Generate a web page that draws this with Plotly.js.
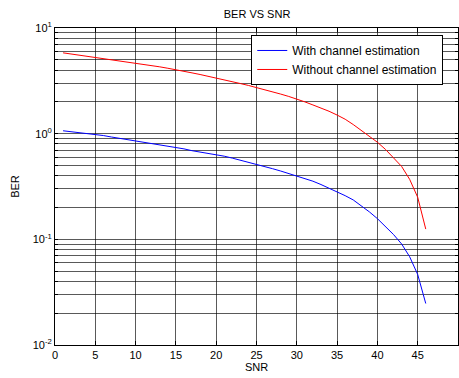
<!DOCTYPE html>
<html>
<head>
<meta charset="utf-8">
<script src="https://cdn.plot.ly/plotly-3.0.1.min.js"></script>
<style>html,body{margin:0;padding:0;background:#fff;}#chart{width:459px;height:378px;}</style>
</head>
<body>
<div id="chart"></div>
<script>
const snr = [1,2,3,4,5,6,7,8,9,10,11,12,13,14,15,16,17,18,19,20,21,22,23,24,25,26,27,28,29,30,31,32,33,34,35,36,37,38,39,40,41,42,43,44,45,46];
const berWith = [1.065,1.045,1.025,1.005,0.99,0.96,0.93,0.905,0.88,0.857,0.834,0.81,0.79,0.768,0.746,0.718,0.69,0.67,0.655,0.64,0.612,0.587,0.562,0.538,0.514,0.49,0.466,0.443,0.42,0.399,0.378,0.355,0.33,0.305,0.283,0.259,0.236,0.208,0.182,0.157,0.133,0.111,0.0905,0.0685,0.0465,0.0247];
const berWithout = [5.82,5.68,5.55,5.41,5.28,5.16,5.03,4.91,4.80,4.68,4.55,4.42,4.29,4.16,4.04,3.90,3.76,3.63,3.50,3.37,3.24,3.11,2.98,2.86,2.74,2.62,2.50,2.37,2.25,2.13,2.00,1.87,1.75,1.63,1.50,1.37,1.22,1.08,0.95,0.83,0.71,0.595,0.49,0.37,0.25,0.125];
const seriesNames = ["With channel estimation", "Without channel estimation"];
const xTicks = [0,5,10,15,20,25,30,35,40,45,50];
const decades = [-2,-1,0,1];

const yVals = [], yText = [];
decades.forEach(d => {
  for (let m = 1; m <= 9; m++) {
    if (d === 1 && m > 1) break;
    yVals.push(m * Math.pow(10, d));
    yText.push(m === 1 ? '10<sup>' + d + '</sup>' : '');
  }
});

const font = {family: 'Liberation Sans, Arial, sans-serif', size: 11, color: '#000'};
const gridColor = 'rgba(0,0,0,0.65)';

const traces = [
  {x: snr, y: berWith, type: 'scatter', mode: 'lines', name: seriesNames[0], line: {color: '#0000ff', width: 1}},
  {x: snr, y: berWithout, type: 'scatter', mode: 'lines', name: seriesNames[1], line: {color: '#ff0000', width: 1}}
];

const layout = {
  width: 459, height: 378,
  margin: {l: 55, r: 1, t: 28, b: 33},
  paper_bgcolor: '#fff', plot_bgcolor: '#fff',
  font: font,
  title: {text: 'BER VS SNR', font: {size: 11, color: '#000'}, x: 0.56, xanchor: 'center', y: 0.962, yanchor: 'middle'},
  xaxis: {
    range: [0, 50], tickvals: xTicks, ticktext: xTicks.map(String),
    showgrid: true, gridcolor: gridColor, gridwidth: 1,
    zeroline: false, showline: true, linecolor: '#000', linewidth: 1, mirror: 'ticks',
    ticks: 'inside', ticklen: 4, tickcolor: '#000',
    title: {text: 'SNR', font: {size: 11}, standoff: 2},
    tickfont: {size: 11}
  },
  yaxis: {
    type: 'log', range: [-2, 1], tickvals: yVals, ticktext: yText,
    showgrid: true, gridcolor: gridColor, gridwidth: 1,
    zeroline: false, showline: true, linecolor: '#000', linewidth: 1, mirror: 'ticks',
    ticks: 'inside', ticklen: 3, tickcolor: '#000',
    title: {text: 'BER', font: {size: 11}, standoff: 10},
    tickfont: {size: 11}
  },
  legend: {
    x: 0.487, y: 0.978, xanchor: 'left', yanchor: 'top',
    bgcolor: '#fff', bordercolor: '#000', borderwidth: 1,
    font: {size: 12}, tracegroupgap: 0
  },
  showlegend: true
};

Plotly.newPlot('chart', traces, layout, {staticPlot: true, displayModeBar: false});
</script>
</body>
</html>
